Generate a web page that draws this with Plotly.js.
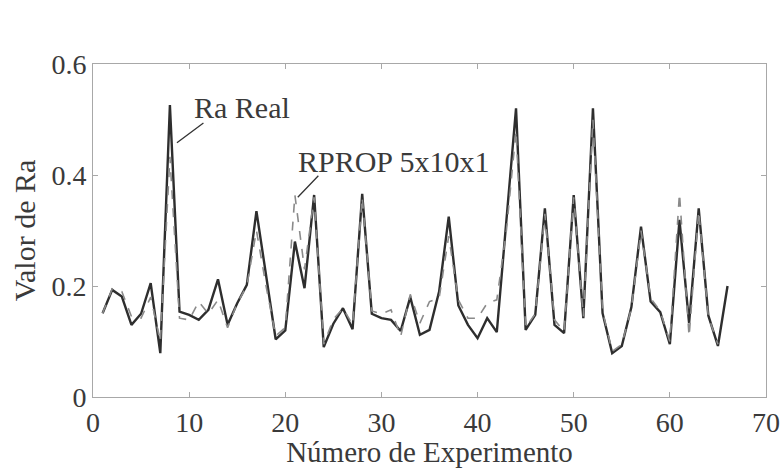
<!DOCTYPE html>
<html>
<head>
<meta charset="utf-8">
<script src="https://cdn.plot.ly/plotly-3.0.1.min.js"></script>
<style>html,body{margin:0;padding:0;background:#fff;}#chart{width:784px;height:468px;}</style>
</head>
<body>
<div id="chart"></div>
<script>
// Experiment numbers
const experimentos = Array.from({length: 66}, (_, i) => i + 1);

// Ra Real (solid line), experiments 1..66
const raReal = [
  0.151, 0.193, 0.181, 0.130, 0.150, 0.205, 0.079, 0.526, 0.154, 0.148,
  0.139, 0.157, 0.212, 0.130, 0.169, 0.202, 0.335, 0.220, 0.104, 0.120,
  0.280, 0.196, 0.364, 0.090, 0.132, 0.160, 0.122, 0.366, 0.150, 0.142,
  0.139, 0.119, 0.180, 0.112, 0.121, 0.190, 0.325, 0.165, 0.130, 0.106,
  0.142, 0.117, 0.320, 0.520, 0.121, 0.148, 0.340, 0.130, 0.115, 0.364,
  0.142, 0.520, 0.151, 0.079, 0.092, 0.162, 0.307, 0.172, 0.153, 0.095,
  0.319, 0.133, 0.340, 0.147, 0.092, 0.200
];

// RPROP 5x10x1 prediction (dashed line), experiments 1..65
const rprop = [
  0.151, 0.195, 0.190, 0.145, 0.142, 0.180, 0.100, 0.433, 0.142, 0.139,
  0.172, 0.150, 0.175, 0.125, 0.169, 0.200, 0.300, 0.200, 0.110, 0.125,
  0.364, 0.230, 0.360, 0.095, 0.140, 0.160, 0.130, 0.360, 0.155, 0.150,
  0.157, 0.109, 0.185, 0.133, 0.172, 0.178, 0.290, 0.175, 0.142, 0.142,
  0.169, 0.175, 0.300, 0.480, 0.125, 0.150, 0.330, 0.139, 0.118, 0.360,
  0.145, 0.500, 0.155, 0.082, 0.095, 0.160, 0.300, 0.178, 0.155, 0.100,
  0.367, 0.109, 0.335, 0.145, 0.095
];

const xTicks = [0, 10, 20, 30, 40, 50, 60, 70];
const yTicks = [0, 0.2, 0.4, 0.6];

const family = "Liberation Serif, Times New Roman, serif";
const font = {family: family, size: 30, color: "#3a3a3a"};
const tickFont = {family: family, size: 28, color: "#3a3a3a"};
const xTitleFont = {family: family, size: 29, color: "#3a3a3a"};

const traces = [
  {x: experimentos, y: raReal, type: "scatter", mode: "lines", name: "Ra Real",
   line: {color: "#2e2e2e", width: 2.4}},
  {x: experimentos.slice(0, rprop.length), y: rprop, type: "scatter", mode: "lines", name: "RPROP 5x10x1",
   line: {color: "#8a8a8a", width: 1.6, dash: "dash"}}
];

const axisCommon = {
  showline: true, mirror: "ticks", linecolor: "#a8a8a8", linewidth: 1,
  ticks: "inside", ticklen: 5, tickcolor: "#a8a8a8", showgrid: false, zeroline: false,
  tickfont: tickFont
};

const layout = {
  width: 784, height: 468,
  margin: {l: 93, r: 18, t: 64, b: 71},
  paper_bgcolor: "#fff", plot_bgcolor: "#fff",
  showlegend: false,
  font: font,
  xaxis: Object.assign({}, axisCommon, {
    range: [0, 70], tickvals: xTicks, ticktext: xTicks.map(String),
    title: {text: "Número de Experimento", font: xTitleFont, standoff: 2}
  }),
  yaxis: Object.assign({}, axisCommon, {
    range: [0, 0.6], tickvals: yTicks, ticktext: yTicks.map(v => v === 0 ? "0" : v.toFixed(1)),
    title: {text: "Valor de Ra", font: font, standoff: 6}
  }),
  annotations: [
    {x: 8.73, y: 0.458, xref: "x", yref: "y", text: "", showarrow: true, arrowhead: 0,
     arrowwidth: 1.3, arrowcolor: "#333", ax: 28, ay: -21},
    {x: 10.3, y: 0.5225, xref: "x", yref: "y", text: "Ra Real", showarrow: false,
     xanchor: "left", yanchor: "middle", font: font},
    {x: 21.3, y: 0.36, xref: "x", yref: "y", text: "", showarrow: true, arrowhead: 0,
     arrowwidth: 1.3, arrowcolor: "#333", ax: 22, ay: -23},
    {x: 21.1, y: 0.425, xref: "x", yref: "y", text: "RPROP 5x10x1", showarrow: false,
     xanchor: "left", yanchor: "middle", font: font}
  ]
};

Plotly.newPlot("chart", traces, layout, {displayModeBar: false, staticPlot: true});
</script>
</body>
</html>
